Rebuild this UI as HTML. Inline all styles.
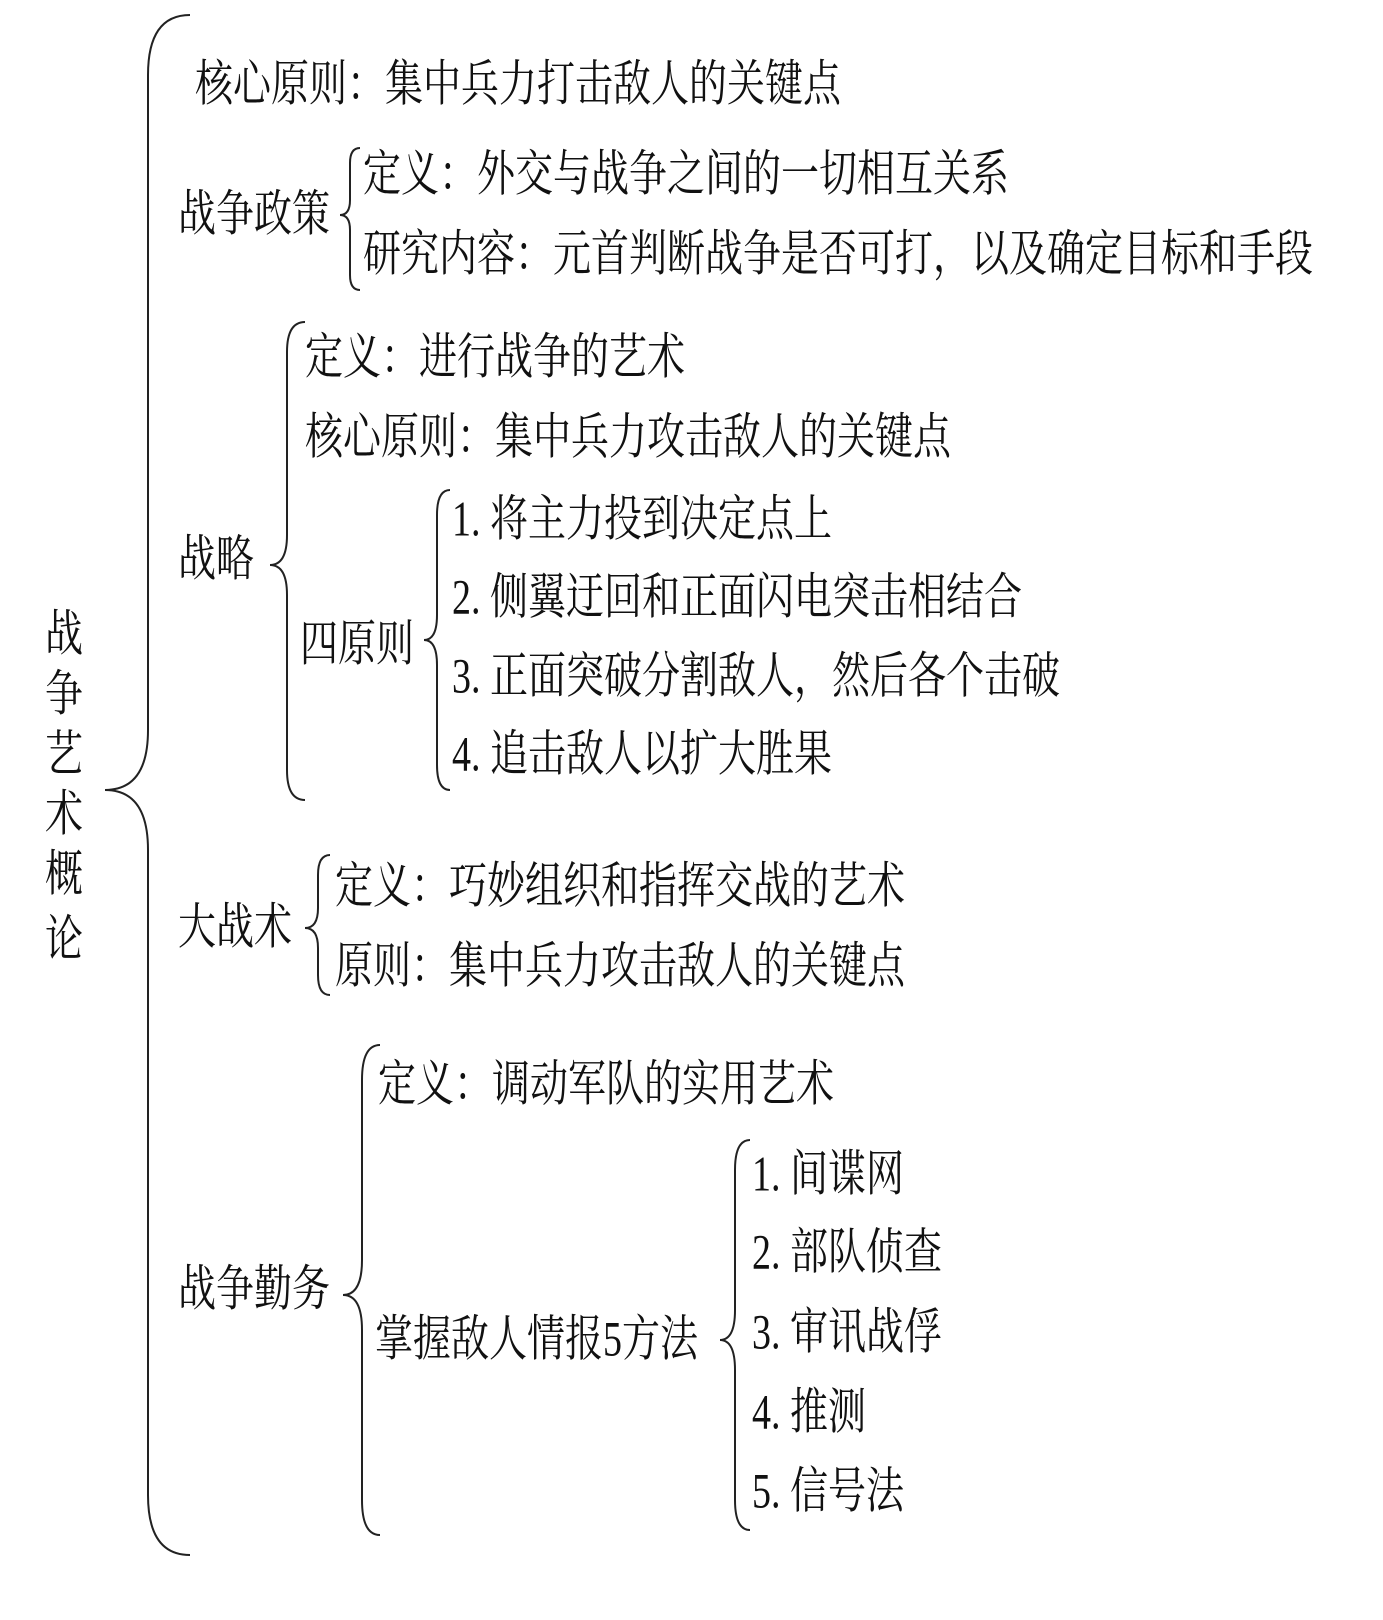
<!DOCTYPE html>
<html><head><meta charset="utf-8"><style>
html,body{margin:0;padding:0;background:#fff;}
#c{position:relative;width:1383px;height:1620px;overflow:hidden;background:#fff;}
.t{position:absolute;white-space:nowrap;font-family:"Liberation Serif","Noto Serif CJK SC",serif;font-size:38px;line-height:50px;height:50px;color:#111;transform:scaleY(1.3);transform-origin:left center;}
svg{position:absolute;left:0;top:0;}
</style></head><body><div id="c">
<svg width="1383" height="1620" fill="none" stroke="#222" stroke-width="2">
<path d="M190,15 Q148,15 148,75 L148,730 Q148,790 105,790 Q148,790 148,850 L148,1495 Q148,1555 190,1555"/>
<path d="M360,148 Q350,148 350,163 L350,200 Q350,215 340,215 Q350,215 350,230 L350,275 Q350,290 360,290"/>
<path d="M305,322 Q287,322 287,352 L287,535 Q287,565 270,565 Q287,565 287,595 L287,770 Q287,800 305,800"/>
<path d="M450,490 Q437,490 437,515 L437,615 Q437,640 424,640 Q437,640 437,665 L437,765 Q437,790 450,790"/>
<path d="M330,855 Q318,855 318,875 L318,908 Q318,928 305,928 Q318,928 318,948 L318,975 Q318,995 330,995"/>
<path d="M380,1045 Q362,1045 362,1080 L362,1260 Q362,1295 343,1295 Q362,1295 362,1330 L362,1500 Q362,1535 380,1535"/>
<path d="M750,1140 Q735,1140 735,1170 L735,1310 Q735,1340 720,1340 Q735,1340 735,1370 L735,1500 Q735,1530 750,1530"/>
</svg>
<div class="t" style="left:45px;top:610px;">战</div>
<div class="t" style="left:45px;top:670px;">争</div>
<div class="t" style="left:45px;top:730px;">艺</div>
<div class="t" style="left:45px;top:790px;">术</div>
<div class="t" style="left:45px;top:850px;">概</div>
<div class="t" style="left:45px;top:915px;">论</div>

<div class="t" style="left:195px;top:60px;">核心原则：集中兵力打击敌人的关键点</div>

<div class="t" style="left:178px;top:190px;">战争政策</div>
<div class="t" style="left:363px;top:150px;">定义：外交与战争之间的一切相互关系</div>
<div class="t" style="left:363px;top:230px;">研究内容：元首判断战争是否可打，以及确定目标和手段</div>

<div class="t" style="left:178px;top:535px;">战略</div>
<div class="t" style="left:305px;top:333px;">定义：进行战争的艺术</div>
<div class="t" style="left:305px;top:413px;">核心原则：集中兵力攻击敌人的关键点</div>
<div class="t" style="left:300px;top:620px;">四原则</div>
<div class="t" style="left:452px;top:495px;">1. 将主力投到决定点上</div>
<div class="t" style="left:452px;top:573px;">2. 侧翼迂回和正面闪电突击相结合</div>
<div class="t" style="left:452px;top:652px;">3. 正面突破分割敌人，然后各个击破</div>
<div class="t" style="left:452px;top:730px;">4. 追击敌人以扩大胜果</div>

<div class="t" style="left:178px;top:903px;">大战术</div>
<div class="t" style="left:335px;top:862px;">定义：巧妙组织和指挥交战的艺术</div>
<div class="t" style="left:335px;top:942px;">原则：集中兵力攻击敌人的关键点</div>

<div class="t" style="left:178px;top:1265px;">战争勤务</div>
<div class="t" style="left:378px;top:1060px;">定义：调动军队的实用艺术</div>
<div class="t" style="left:375px;top:1315px;">掌握敌人情报5方法</div>
<div class="t" style="left:752px;top:1150px;">1. 间谍网</div>
<div class="t" style="left:752px;top:1228px;">2. 部队侦查</div>
<div class="t" style="left:752px;top:1308px;">3. 审讯战俘</div>
<div class="t" style="left:752px;top:1388px;">4. 推测</div>
<div class="t" style="left:752px;top:1467px;">5. 信号法</div>
</div></body></html>
